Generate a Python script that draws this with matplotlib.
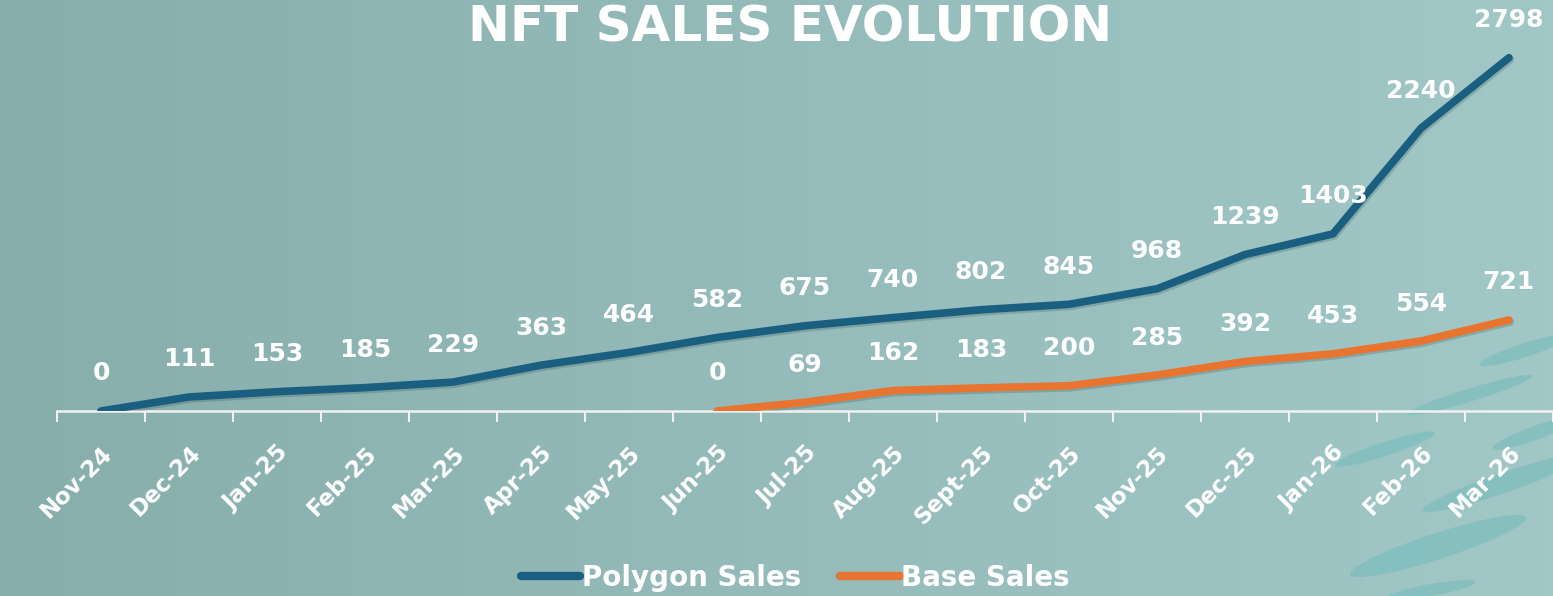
import numpy as np
import matplotlib
matplotlib.use("Agg")
import matplotlib.pyplot as plt
import matplotlib.patheffects as pe
from matplotlib.patches import Ellipse

plt.rcParams['font.family'] = ['DejaVu Sans']

months = ["Nov-24", "Dec-24", "Jan-25", "Feb-25", "Mar-25", "Apr-25", "May-25",
          "Jun-25", "Jul-25", "Aug-25", "Sept-25", "Oct-25", "Nov-25", "Dec-25",
          "Jan-26", "Feb-26", "Mar-26"]
polygon_sales = [0, 111, 153, 185, 229, 363, 464, 582, 675, 740, 802, 845,
                 968, 1239, 1403, 2240, 2798]
base_sales = [0, 69, 162, 183, 200, 285, 392, 453, 554, 721]

polygon_color = "#1a5f80"
base_color = "#e8742f"

W, H = 1553, 596
fig = plt.figure(figsize=(W / 100, H / 100), dpi=100)

# background gradient
bg = fig.add_axes([0, 0, 1, 1], zorder=-2)
grad = np.linspace(0, 1, 256).reshape(1, -1)
left = np.array([0x88, 0xae, 0xac]) / 255
right = np.array([0xa1, 0xc7, 0xc7]) / 255
img = left[None, None, :] * (1 - grad[..., None]) + right[None, None, :] * grad[..., None]
bg.imshow(img, aspect="auto", extent=[0, W, 0, H])
bg.set_xlim(0, W)
bg.set_ylim(H, 0)
bg.axis("off")

# decorative leaves in the bottom-right corner
leaves = [(1525, 350, 95, 14, 18), (1470, 395, 130, 13, 17), (1535, 433, 90, 14, 20),
          (1385, 449, 105, 14, 18), (1503, 483, 170, 20, 19), (1438, 546, 185, 26, 18),
          (1431, 590, 90, 12, 10)]
for cx, cy, w, h, ang in leaves:
    bg.add_patch(Ellipse((cx, cy), w, h, angle=-ang, color="#7dbdbd", alpha=0.7, lw=0))

ax = fig.add_axes([57 / W, 185 / H, 1 - 57 / W, 1 - 185 / H])
ax.patch.set_alpha(0)

x_poly = np.arange(len(months))
x_base = np.arange(len(months) - len(base_sales), len(months))
shadow = [pe.SimpleLineShadow(offset=(1, -1.5), alpha=0.2, shadow_color="#1d3a3a"), pe.Normal()]

ax.plot(x_poly, polygon_sales, color=polygon_color, lw=5.5, solid_capstyle="round",
        solid_joinstyle="round", path_effects=shadow, label="Polygon Sales", zorder=3)
ax.plot(x_base, base_sales, color=base_color, lw=5.5, solid_capstyle="round",
        solid_joinstyle="round", path_effects=shadow, label="Base Sales", zorder=3)

for xs, ys in [(x_poly, polygon_sales), (x_base, base_sales)]:
    for xi, v in zip(xs, ys):
        ax.annotate(str(v), (xi, v), xytext=(0, 27), textcoords="offset points",
                    ha="center", va="center", color="white", fontsize=18, fontweight="bold")

ax.set_xlim(-0.5, len(months) - 0.5)
ax.set_ylim(0, 3255)
ax.set_yticks([])
for s in ["top", "right", "left"]:
    ax.spines[s].set_visible(False)
ax.spines["bottom"].set_color("#f2f2f2")
ax.spines["bottom"].set_linewidth(1.8)

ax.set_xticks(x_poly)
ax.set_xticklabels(months, rotation=45, ha="right", rotation_mode="anchor",
                   color="white", fontsize=16.5, fontweight="bold")
ax.tick_params(axis="x", which="major", length=0, pad=22)
ax.set_xticks(np.arange(-0.5, len(months)), minor=True)
ax.tick_params(axis="x", which="minor", length=8, width=1.5, color="#f2f2f2")

fig.text(0.509, 1 - 42 / H, "NFT SALES EVOLUTION", ha="center", va="baseline",
         color="white", fontsize=36, fontweight="bold")

leg = fig.legend(loc="center", bbox_to_anchor=(0.512, 18 / H), ncol=2, frameon=False,
                 handlelength=2.15, handletextpad=0.05, columnspacing=1.4,
                 prop={"weight": "bold", "size": 20})
for t in leg.get_texts():
    t.set_color("white")
for line in leg.get_lines():
    line.set_path_effects([])
    line.set_linewidth(6)

fig.savefig("out.png", dpi=100)
